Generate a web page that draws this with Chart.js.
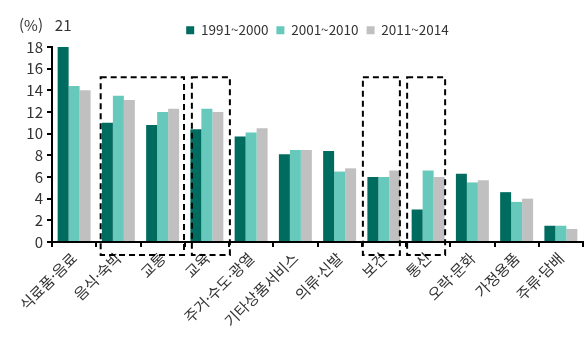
<!DOCTYPE html>
<html lang="ko">
<head>
<meta charset="UTF-8">
<title>소비지출 비중</title>
<script src="https://cdn.jsdelivr.net/npm/chart.js"></script>
<style>
  * { margin: 0; padding: 0; box-sizing: border-box; }
  html, body { width: 588px; height: 347px; background: #fff; overflow: hidden; }
  #wrap { width: 588px; height: 347px; position: relative; }
</style>
</head>
<body>
<div id="wrap"><canvas id="chart"></canvas></div>
<script>
// 품목별 소비지출 비중 (%)
const categories = ['식료품·음료', '음식·숙박', '교통', '교육', '주거·수도·광열', '기타상품서비스',
                    '의류·신발', '보건', '통신', '오락·문화', '가정용품', '주류·담배'];
const seriesNames = ['1991~2000', '2001~2010', '2011~2014'];
const s1991 = [21, 11.0, 10.8, 10.4, 9.75, 8.1, 8.4, 6.0, 3.0, 6.3, 4.6, 1.5];
const s2001 = [14.4, 13.5, 12.0, 12.3, 10.1, 8.5, 6.5, 6.0, 6.6, 5.5, 3.7, 1.5];
const s2011 = [14.0, 13.1, 12.3, 12.0, 10.5, 8.5, 6.8, 6.6, 6.0, 5.7, 4.0, 1.2];
const yMax = 18;
const yStep = 2;
// 점선 박스로 강조하는 항목
const highlightGroups = [['음식·숙박', '교통'], ['교육'], ['보건'], ['통신']];
const highlightTop = 15.2;

const colors = ['#006B5F', '#66C9BB', '#C0C0C0'];
const textColor = '#333';
const fontFamily = '"Noto Sans CJK KR", "Noto Sans", sans-serif';

// 박스 좌우 여백 (px)
const boxInsets = [[-17.7, 21.4], [-15, 23], [-21, 16], [-21, 17]];

const extras = {
  id: 'extras',
  afterDatasetsDraw(chart) {
    const {ctx, chartArea, scales: {x, y}} = chart;
    ctx.save();
    // 점선 박스
    ctx.strokeStyle = '#000';
    ctx.lineWidth = 2;
    ctx.setLineDash([6, 4]);
    highlightGroups.forEach((g, i) => {
      const left = x.getPixelForValue(categories.indexOf(g[0])) + boxInsets[i][0];
      const right = x.getPixelForValue(categories.indexOf(g[g.length - 1])) + boxInsets[i][1];
      const top = y.getPixelForValue(highlightTop);
      const bottom = y.getPixelForValue(0) + 13;
      ctx.strokeRect(left, top, right - left, bottom - top);
    });
    ctx.setLineDash([]);

    // 축 범위를 넘는 값 표시
    ctx.fillStyle = textColor;
    ctx.font = '15px ' + fontFamily;
    ctx.textBaseline = 'middle';
    const meta = chart.getDatasetMeta(0);
    s1991.forEach((v, i) => {
      if (v > yMax) {
        ctx.textAlign = 'center';
        ctx.fillText(String(v), meta.data[i].x, 25);
      }
    });
    ctx.textAlign = 'right';
    ctx.fillText('(%)', chartArea.left - 9, 25);
    ctx.restore();
  }
};

new Chart(document.getElementById('chart'), {
  type: 'bar',
  data: {
    labels: categories,
    datasets: [s1991, s2001, s2011].map((d, i) => ({
      label: seriesNames[i],
      data: d,
      backgroundColor: colors[i],
      categoryPercentage: 0.745,
      barPercentage: 1.0
    }))
  },
  options: {
    responsive: true,
    maintainAspectRatio: false,
    animation: false,
    layout: { padding: { top: 7, right: 5, left: 0, bottom: 0 } },
    plugins: {
      tooltip: { enabled: false },
      legend: {
        position: 'top',
        fullSize: false,
        labels: {
          boxWidth: 8,
          boxHeight: 8,
          padding: 8,
          color: textColor,
          font: { family: fontFamily, size: 13.5 }
        }
      }
    },
    scales: {
      x: {
        grid: { drawOnChartArea: false, drawTicks: true, tickLength: 5, color: '#000', lineWidth: 2, offset: true },
        border: { color: '#000', width: 2 },
        ticks: {
          color: textColor,
          font: { family: fontFamily, size: 15 },
          minRotation: 45,
          maxRotation: 45,
          padding: 2,
          autoSkip: false
        },
        afterFit(scale) {
          scale.height = 105;
          scale.paddingLeft = 0;
          scale.paddingRight = 0;
        }
      },
      y: {
        min: 0,
        max: yMax,
        grid: { drawOnChartArea: false, drawTicks: true, tickLength: 5, color: '#000', lineWidth: 2 },
        border: { color: '#000', width: 2 },
        ticks: {
          stepSize: yStep,
          color: textColor,
          padding: 4,
          font: { family: fontFamily, size: 15 }
        },
        afterFit(scale) {
          scale.width = 52;
          scale.paddingTop = 47;
          scale.paddingBottom = 0;
        }
      }
    }
  },
  plugins: [extras]
});
</script>
</body>
</html>
